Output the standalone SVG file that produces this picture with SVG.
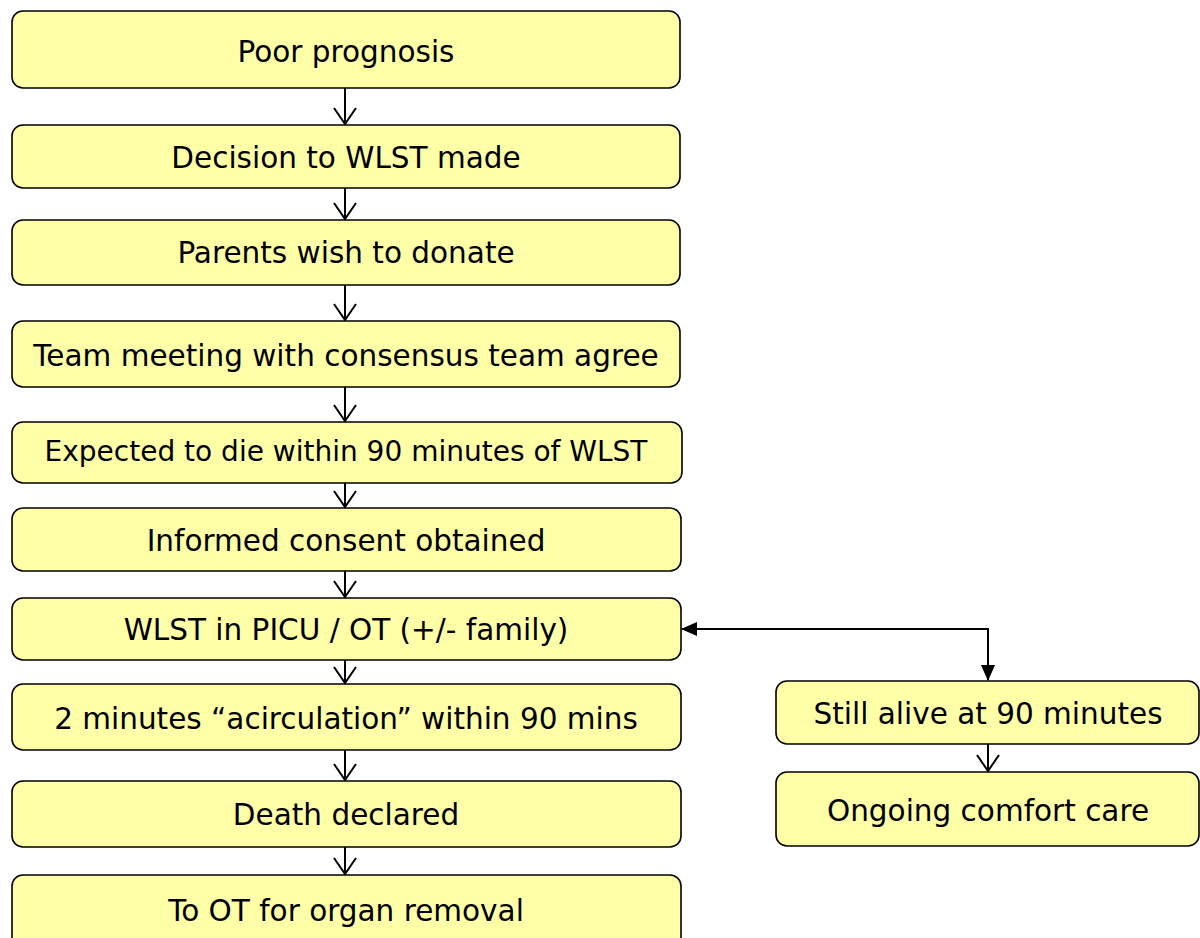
<svg xmlns="http://www.w3.org/2000/svg" width="1200" height="938" viewBox="0 0 1200 938">
<style>
.box{fill:#FFFFA8;stroke:#000;stroke-width:1.6}
.t{font-family:"DejaVu Sans",Verdana,sans-serif;font-size:29.5px;fill:#000;text-anchor:middle}
.s{font-size:28px}
.ln{fill:none;stroke:#000;stroke-width:2}
</style>
<defs>
<marker id="open" viewBox="0 0 18 24" refX="17" refY="12" markerWidth="18" markerHeight="24" markerUnits="userSpaceOnUse" orient="auto">
<path d="M1,1 L17,12 L1,23" fill="none" stroke="#000" stroke-width="2"/>
</marker>
<marker id="fill" viewBox="0 0 16 16" refX="15" refY="8" markerWidth="16" markerHeight="16" markerUnits="userSpaceOnUse" orient="auto-start-reverse">
<path d="M0,1 L16,8 L0,15 Z" fill="#000"/>
</marker>
</defs>
<rect width="1200" height="938" fill="#fff"/>
<g id="n1"><rect class="box" x="12" y="11" width="668" height="77" rx="11"/><text class="t" x="346" y="62">Poor prognosis</text></g>
<g id="n2"><rect class="box" x="12" y="125" width="668" height="63" rx="11"/><text class="t" x="346" y="168">Decision to WLST made</text></g>
<g id="n3"><rect class="box" x="12" y="220" width="668" height="65" rx="11"/><text class="t" x="346" y="263">Parents wish to donate</text></g>
<g id="n4"><rect class="box" x="12" y="321" width="668" height="66" rx="11"/><text class="t" x="346" y="366">Team meeting with consensus team agree</text></g>
<g id="n5"><rect class="box" x="12" y="422" width="670" height="61" rx="11"/><text class="t s" x="346" y="461">Expected to die within 90 minutes of WLST</text></g>
<g id="n6"><rect class="box" x="12" y="508" width="669" height="63" rx="11"/><text class="t" x="346" y="551">Informed consent obtained</text></g>
<g id="n7"><rect class="box" x="12" y="598" width="669" height="62" rx="11"/><text class="t" x="346" y="640">WLST in PICU / OT (+/- family)</text></g>
<g id="n8"><rect class="box" x="12" y="684" width="669" height="66" rx="11"/><text class="t" x="346" y="729">2 minutes “acirculation” within 90 mins</text></g>
<g id="n9"><rect class="box" x="12" y="781" width="669" height="66" rx="11"/><text class="t" x="346" y="825">Death declared</text></g>
<g id="n10"><rect class="box" x="12" y="875" width="669" height="80" rx="11"/><text class="t" x="346" y="921">To OT for organ removal</text></g>
<g id="n11"><rect class="box" x="776" y="681" width="423" height="63" rx="11"/><text class="t" x="988" y="724">Still alive at 90 minutes</text></g>
<g id="n12"><rect class="box" x="776" y="772" width="423" height="74" rx="11"/><text class="t" x="988" y="821">Ongoing comfort care</text></g>
<g id="connectors">
<line class="ln" x1="345" y1="88" x2="345" y2="124" marker-end="url(#open)"/>
<line class="ln" x1="345" y1="188" x2="345" y2="219" marker-end="url(#open)"/>
<line class="ln" x1="345" y1="285" x2="345" y2="320" marker-end="url(#open)"/>
<line class="ln" x1="345" y1="387" x2="345" y2="421" marker-end="url(#open)"/>
<line class="ln" x1="345" y1="483" x2="345" y2="507" marker-end="url(#open)"/>
<line class="ln" x1="345" y1="571" x2="345" y2="597" marker-end="url(#open)"/>
<line class="ln" x1="345" y1="660" x2="345" y2="683" marker-end="url(#open)"/>
<line class="ln" x1="345" y1="750" x2="345" y2="780" marker-end="url(#open)"/>
<line class="ln" x1="345" y1="847" x2="345" y2="874" marker-end="url(#open)"/>
<line class="ln" x1="988" y1="744" x2="988" y2="771" marker-end="url(#open)"/>
<path class="ln" d="M682,629 H988 V680" marker-start="url(#fill)" marker-end="url(#fill)"/>
</g>
</svg>
